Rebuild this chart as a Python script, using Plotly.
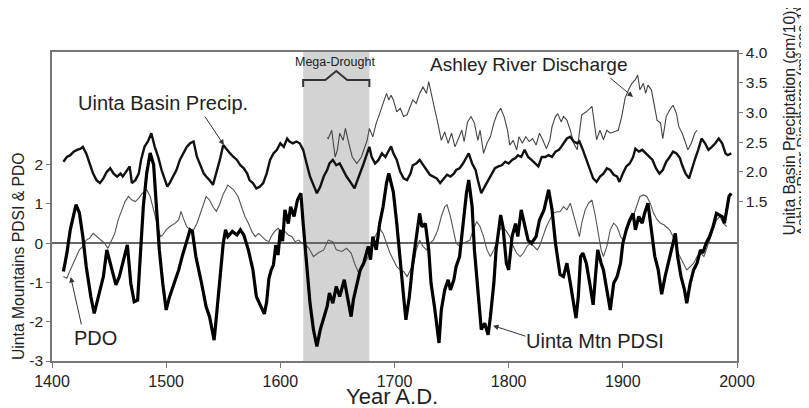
import plotly.graph_objects as go

# ---------------- data ----------------
pdsi_year = [1410,1413,1416,1419,1421,1424,1427,1430,1434,1437,1440,1445,1448,1452,1456,1459,1463,1466,1469,1472,
             1475,1477,1480,1483,1486,1489,1491,1494,1497,1500,1503,1507,1511,1514,1518,1521,1523,1526,1531,1535,
             1538,1542,1544,1547,1550,1552,1554,1558,1562,1565,1568,1572,1576,1579,1582,1586,1588,1590,1592,1594,
             1596,1598,1600,1602,1604,1607,1609,1612,1615,1618,1620,1623,1626,1629,1632,1635,1638,1641,1643,1646,
             1649,1652,1656,1659,1662,1664,1667,1670,1673,1677,1679,1681,1684,1687,1690,1693,1695,1697,1699,1702,
             1705,1708,1710,1713,1716,1719,1722,1724,1727,1730,1732,1735,1739,1741,1744,1747,1749,1752,1754,1757,
             1760,1763,1765,1768,1770,1773,1776,1779,1782,1784,1787,1789,1791,1793,1795,1798,1800,1803,1806,1808,
             1811,1814,1817,1820,1824,1827,1831,1835,1838,1841,1843,1845,1848,1851,1854,1857,1859,1861,1863,1865,
             1868,1871,1874,1876,1878,1881,1883,1886,1889,1892,1895,1898,1900,1903,1906,1909,1911,1914,1917,1919,
             1922,1925,1928,1931,1934,1937,1940,1943,1946,1948,1951,1954,1956,1959,1962,1965,1968,1970,1973,1976,
             1979,1982,1985,1987,1989,1991,1993,1995]
pdsi_val = [-0.72,-0.26,0.34,0.68,0.98,0.77,0.17,-0.6,-1.36,-1.79,-1.45,-0.85,-0.17,-0.6,-1.06,-0.85,-0.34,-0.04,-1.02,-1.49,
            -1.45,-0.6,0.94,1.79,2.3,2.0,1.1,-0.17,-1.02,-1.7,-1.36,-1.02,-0.68,-0.34,0.08,0.34,0.3,-0.34,-1.02,-1.62,
            -1.87,-2.47,-1.87,-1.02,0.0,0.34,0.17,0.3,0.21,0.34,0.21,-0.17,-0.68,-1.36,-1.53,-1.8,-1.5,-0.9,-0.68,-0.55,
            -0.05,-0.3,0.34,0.05,0.85,0.5,0.93,0.68,1.1,1.27,0.5,-0.5,-1.53,-2.2,-2.63,-2.2,-1.87,-1.61,-1.27,-1.53,
            -1.1,-1.36,-0.93,-1.36,-1.87,-1.44,-1.02,-0.68,-0.51,-0.08,-0.42,0.17,-0.17,0.5,0.93,1.53,1.78,1.53,1.3,0.5,
            -0.34,-1.36,-1.95,-1.36,-0.51,0.17,0.76,0.42,0.5,-0.17,-1.02,-1.61,-2.54,-1.7,-1.19,-0.93,-1.19,-0.93,-0.59,-0.34,
            0.5,1.27,1.61,0.93,-0.17,-1.27,-2.2,-2.04,-2.33,-1.87,-1.02,-0.17,0.34,0.72,0.42,-0.51,-0.68,0.17,0.5,0.17,
            0.85,0.5,0.08,0.0,0.17,0.59,0.85,1.36,0.85,0.0,-0.34,-0.8,-0.85,-0.51,-1.02,-1.53,-1.91,-1.36,-0.34,-0.25,
            -0.51,-1.02,-1.57,-0.85,-0.17,-0.51,-0.68,-1.19,-1.7,-1.02,-0.85,-0.51,0.0,0.34,0.59,0.76,0.34,0.68,0.51,0.76,
            1.02,0.34,-0.34,-0.68,-1.3,-0.85,-0.51,-0.17,0.25,-0.34,-0.85,-1.19,-1.53,-1.02,-0.68,-0.51,-0.17,-0.25,0.0,0.17,
            0.42,0.76,0.72,0.68,0.51,0.85,1.19,1.27]

pdo_year = [1410,1413,1416,1419,1422,1424,1427,1430,1433,1436,1439,1443,1446,1449,1452,1455,1458,1461,1464,1467,
            1470,1473,1476,1479,1483,1486,1489,1492,1495,1497,1500,1503,1508,1511,1513,1515,1518,1521,1524,1527,
            1530,1533,1535,1538,1541,1544,1547,1550,1554,1559,1563,1566,1569,1572,1575,1578,1581,1584,1587,1590,
            1592,1595,1598,1601,1604,1607,1610,1613,1616,1619,1622,1625,1629,1633,1638,1642,1646,1649,1654,1658,
            1662,1665,1668,1671,1674,1677,1680,1683,1687,1690,1693,1696,1699,1702,1705,1708,1711,1714,1717,1719,
            1722,1725,1728,1731,1734,1738,1741,1744,1746,1749,1752,1754,1757,1760,1763,1766,1769,1772,1775,1778,
            1781,1784,1787,1790,1792,1795,1798,1801,1804,1807,1810,1813,1816,1819,1822,1825,1827,1830,1833,1836,
            1839,1842,1845,1848,1851,1854,1857,1860,1862,1864,1867,1870,1873,1876,1879,1881,1883,1886,1889,1892,
            1895,1898,1900,1903,1906,1909,1912,1915,1918,1921,1924,1927,1930,1933,1936,1938,1941,1944,1947,1950,
            1953,1956,1959,1962,1965,1968,1971,1973,1976,1979,1982,1985,1988,1991]
pdo_val = [-0.85,-0.89,-0.68,-0.51,-0.3,-0.17,-0.08,0.08,0.13,0.25,0.17,0.08,0.0,-0.13,0.04,0.25,0.6,0.85,1.06,1.19,
           1.1,1.06,1.15,1.27,1.36,1.19,0.85,0.51,0.17,0.21,0.34,0.42,0.51,0.6,0.81,0.64,0.42,0.34,0.34,0.51,
           0.76,1.06,1.19,1.1,0.93,0.81,1.0,1.25,1.48,1.36,1.19,0.93,0.68,0.51,0.3,0.17,0.25,0.17,0.08,0.04,
           0.17,0.3,0.38,0.3,0.3,0.21,0.17,0.04,0.08,0.0,-0.04,-0.13,-0.34,-0.25,-0.17,0.08,0.04,-0.17,-0.21,-0.13,
           -0.25,-0.51,-0.72,-0.68,-0.51,-0.34,-0.08,0.17,0.38,0.25,0.0,-0.25,-0.42,-0.6,-0.68,-0.72,-0.85,-0.68,-0.51,-0.17,
           0.08,-0.08,-0.17,0.0,0.08,0.34,0.68,0.93,0.98,0.68,0.25,0.0,-0.08,0.0,0.04,0.08,0.34,0.55,0.42,0.17,
           -0.17,-0.34,-0.17,0.08,0.34,0.42,0.3,0.17,-0.08,-0.25,-0.34,-0.25,-0.08,0.0,-0.08,-0.17,-0.08,0.17,0.42,0.6,
           0.76,0.8,0.8,0.93,0.85,1.02,0.68,0.34,0.17,0.51,0.85,1.02,1.1,0.68,0.17,-0.17,-0.34,-0.08,0.34,0.51,
           0.42,0.17,0.08,0.3,0.51,0.68,0.93,1.19,1.23,1.19,1.02,0.76,0.6,0.51,0.47,0.42,0.34,0.17,-0.17,-0.34,
           -0.51,-0.68,-0.6,-0.51,-0.34,-0.25,-0.34,-0.17,0.08,0.34,0.59,0.68,0.51,0.42]

precip_year = [1410,1413,1416,1419,1422,1425,1427,1430,1433,1436,1439,1442,1445,1448,1451,1454,1457,1460,1462,1465,
               1468,1470,1473,1476,1478,1481,1484,1487,1490,1493,1496,1499,1501,1503,1506,1509,1512,1515,1518,1521,
               1524,1527,1530,1533,1535,1538,1541,1544,1547,1550,1553,1556,1559,1562,1565,1568,1571,1573,1576,1579,
               1582,1585,1588,1591,1594,1597,1600,1603,1606,1608,1611,1614,1617,1620,1623,1626,1629,1632,1635,1638,
               1641,1643,1646,1649,1652,1655,1658,1662,1665,1667,1670,1673,1676,1678,1680,1683,1686,1689,1692,1695,
               1697,1699,1702,1705,1708,1711,1714,1716,1719,1722,1725,1728,1731,1734,1737,1740,1743,1746,1749,1752,
               1754,1757,1760,1763,1765,1768,1771,1773,1776,1779,1782,1785,1788,1791,1794,1797,1800,1803,1806,1808,
               1811,1814,1817,1820,1823,1826,1829,1832,1835,1838,1841,1844,1846,1848,1851,1854,1857,1860,1862,1865,
               1868,1871,1874,1877,1880,1883,1886,1889,1892,1895,1897,1900,1903,1906,1909,1911,1914,1917,1920,1923,
               1926,1929,1932,1935,1938,1941,1944,1947,1950,1952,1955,1958,1960,1963,1966,1969,1972,1975,1978,1981,
               1984,1987,1990,1992,1995]
precip_val = [2.17,2.25,2.28,2.34,2.37,2.39,2.42,2.31,2.14,1.97,1.86,1.81,1.89,2.0,2.06,1.97,1.92,1.97,1.92,2.0,
              2.09,1.81,1.86,1.97,2.2,2.42,2.51,2.65,2.42,2.25,2.03,1.86,1.75,1.81,1.92,2.03,2.2,2.31,2.42,2.48,
              2.51,2.25,2.11,1.97,1.92,1.86,1.78,1.97,2.2,2.45,2.37,2.31,2.25,2.2,2.11,2.06,1.97,1.86,1.81,1.72,
              1.75,1.81,1.97,2.2,2.31,2.37,2.48,2.42,2.56,2.51,2.48,2.51,2.48,2.37,2.14,1.92,1.78,1.64,1.75,1.92,
              2.03,2.14,2.2,2.11,2.14,2.03,1.92,1.81,1.72,1.83,1.97,2.14,2.31,2.42,2.25,2.14,2.2,2.31,2.25,2.37,
              2.43,2.31,2.2,2.0,1.89,1.86,1.97,2.11,2.14,2.2,2.11,2.03,1.95,1.92,1.89,1.81,1.89,1.95,1.92,1.97,
              2.03,2.06,2.14,2.23,2.31,2.14,2.03,1.86,1.64,1.75,1.86,1.97,2.06,2.09,2.11,2.17,2.14,2.2,2.23,2.28,
              2.25,2.37,2.25,2.2,2.14,2.09,2.25,2.25,2.28,2.25,2.34,2.37,2.42,2.48,2.56,2.59,2.51,2.48,2.51,2.37,
              2.2,2.03,1.89,1.83,1.92,1.97,2.06,2.03,1.95,1.92,1.83,1.97,2.09,2.14,2.25,2.39,2.34,2.37,2.31,2.25,
              2.2,2.06,1.97,2.03,2.17,2.25,2.34,2.31,2.23,2.11,1.97,1.89,2.03,2.2,2.37,2.56,2.48,2.37,2.42,2.48,
              2.56,2.48,2.31,2.28,2.31]

discharge_year = [1641,1642,1645,1648,1650,1652,1655,1657,1660,1663,1667,1671,1676,1678,1681,1684,1687,1690,1692,1693,
                  1695,1697,1699,1702,1705,1708,1711,1714,1716,1719,1722,1725,1728,1730,1732,1735,1738,1741,1744,1747,
                  1750,1753,1756,1759,1761,1764,1767,1770,1773,1775,1778,1781,1784,1787,1790,1793,1796,1799,1801,1804,
                  1807,1809,1812,1815,1818,1821,1824,1827,1830,1833,1836,1838,1841,1843,1846,1848,1851,1854,1857,1860,
                  1864,1868,1873,1877,1880,1883,1886,1889,1893,1896,1899,1902,1905,1908,1911,1913,1915,1918,1920,1922,
                  1925,1928,1930,1933,1935,1938,1941,1944,1947,1949,1952,1954,1957,1960,1963,1965]
discharge_val = [2.58,2.56,2.7,2.25,2.37,2.65,2.53,2.73,2.48,2.25,2.14,2.25,2.53,2.73,2.59,2.82,2.98,3.15,3.24,3.32,
                 3.21,3.29,3.21,3.01,3.07,2.93,2.96,3.12,3.21,3.15,3.32,3.43,3.32,3.52,3.32,3.07,2.82,2.53,2.67,2.48,
                 2.65,2.42,2.56,2.7,2.51,2.84,2.93,2.82,2.53,2.7,2.31,2.48,2.59,2.82,2.98,3.07,2.93,2.7,2.45,2.53,
                 2.37,2.59,2.48,2.59,2.51,2.56,2.45,2.65,2.53,2.39,2.53,2.76,2.93,2.98,2.84,2.93,2.87,2.7,2.48,2.37,
                 2.96,3.01,3.1,2.54,2.7,2.54,2.7,2.65,2.68,2.7,2.93,3.24,3.38,3.49,3.55,3.63,3.38,3.49,3.32,3.46,
                 3.38,3.1,2.87,2.82,2.56,2.93,3.04,3.12,2.98,2.76,2.65,2.54,2.37,2.48,2.65,2.7]

x_ticks = [1400, 1500, 1600, 1700, 1800, 1900, 2000]
left_ticks = [-3, -2, -1, 0, 1, 2]
left_tick_text = ["-3", "-2", "-1", "0", "1", "2"]
right_ticks = [1.5, 2.0, 2.5, 3.0, 3.5, 4.0]
right_tick_text = ["1.5", "2.0", "2.5", "3.0", "3.5", "4.0"]
mega_drought = [1620, 1678]

# ---------------- figure ----------------
FONT = "Liberation Sans, Arial, Helvetica, sans-serif"
INK = "#222222"
AX = "#777777"

# the page body has an 8px default margin; compensate so the plot lands where the reference has it
PAGE_OFF = 8
W, H = 809, 408
ML, MT = 52 - PAGE_OFF, 52 - PAGE_OFF
MR = W - ML - 685              # plot width 685
MB = H - MT - 309              # plot height 309
PLOT_W, PLOT_H = 685, 309
TOP = 52                       # screen pixel of plot top
BOT = TOP + PLOT_H             # screen pixel of plot bottom
LEFT = 52

fig = go.Figure()
fig.add_trace(go.Scatter(x=discharge_year, y=discharge_val, yaxis="y2", mode="lines",
                         line=dict(color="#444444", width=1.1), name="Ashley River Discharge"))
fig.add_trace(go.Scatter(x=pdo_year, y=pdo_val, mode="lines",
                         line=dict(color="#555555", width=1.1), name="PDO"))
fig.add_trace(go.Scatter(x=precip_year, y=precip_val, yaxis="y2", mode="lines",
                         line=dict(color="#111111", width=2.4), name="Uinta Basin Precip."))
fig.add_trace(go.Scatter(x=pdsi_year, y=pdsi_val, mode="lines",
                         line=dict(color="#000000", width=3.2), name="Uinta Mtn PDSI"))

# mega-drought band
fig.add_shape(type="rect", xref="x", yref="paper", x0=mega_drought[0], x1=mega_drought[1],
              y0=0, y1=1, fillcolor="#d3d3d3", line_width=0, layer="below")

def py(p):
    return (BOT - p) / float(PLOT_H)

def px(p):
    return (p - LEFT) / float(PLOT_W)

mid = (mega_drought[0] + mega_drought[1]) / 2.0
half = (mega_drought[1] - mega_drought[0]) / 2.0
bx = [mega_drought[0], mega_drought[0], mid - 0.33 * half, mid, mid + 0.33 * half, mega_drought[1], mega_drought[1]]
byy = [py(87), py(80), py(80), py(71), py(80), py(80), py(87)]
path = "M " + " L ".join(f"{a},{b}" for a, b in zip(bx, byy))
fig.add_shape(type="path", xref="x", yref="paper", path=path,
              line=dict(color="#333333", width=2))

ann = []
def txt(x, y, s, size, xref="x", yref="y", **kw):
    ann.append(dict(x=x, y=y, xref=xref, yref=yref, text=s, showarrow=False,
                    xanchor="center", yanchor="middle",
                    font=dict(family=FONT, size=size, color=INK), **kw))

def arrow(x, y, ax, ay, yref="y"):
    ann.append(dict(x=x, y=y, xref="x", yref=yref, text="", showarrow=True,
                    ax=ax, ay=ay, arrowhead=2, arrowsize=1.1, arrowwidth=1,
                    arrowcolor="#333333", standoff=0, startstandoff=0))

txt(mid - 1, py(62), "Mega-Drought", 12.5, yref="paper")
txt(1497, 3.57, "Uinta Basin Precip.", 20)
txt(1817, 4.54, "Ashley River Discharge", 19)
txt(1438.5, -2.41, "PDO", 20)
txt(1876, -2.5, "Uinta Mtn PDSI", 20)

arrow(1550.6, 2.45, -20, -30, yref="y2")
arrow(1908.9, 3.26, -24, -20, yref="y2")
arrow(1416.4, -0.86, 11, 49)
arrow(1786.3, -2.1, 34, 11)

# axis titles
txt(px(392), py(396), "Year A.D.", 22, xref="paper", yref="paper")
txt(px(19), py(256), "Uinta Mountains PDSI & PDO", 15.7, xref="paper", yref="paper",
    textangle=-90)
txt(px(789), py(121.5), "Unita Basin Preciptation (cm/10);", 15.7,
    xref="paper", yref="paper", textangle=-90)
txt(px(800), py(121), "Ashley River Discharge (m<sup>3</sup> sec-1)", 15,
    xref="paper", yref="paper", textangle=-90)

fig.update_layout(
    width=W, height=H,
    margin=dict(l=ML, r=MR, t=MT, b=MB, autoexpand=False),
    paper_bgcolor="white", plot_bgcolor="white",
    showlegend=False,
    font=dict(family=FONT, color=INK),
    annotations=ann,
    xaxis=dict(range=[1400, 2000], tickvals=x_ticks, ticks="outside", ticklen=5,
               tickcolor=AX, showgrid=False, zeroline=False, showline=True, linecolor=AX,
               linewidth=1.5, mirror=True, tickfont=dict(size=16, color=INK)),
    yaxis=dict(range=[-3, 4.87], tickvals=left_ticks, ticktext=left_tick_text,
               ticks="outside", ticklen=4,
               tickcolor=AX, showgrid=False, zeroline=True, zerolinecolor="#666666",
               zerolinewidth=1.6, showline=True, linecolor=AX, linewidth=1.5,
               tickfont=dict(size=15.5, color=INK)),
    yaxis2=dict(range=[-1.185, 4.017], tickvals=right_ticks, ticktext=right_tick_text,
                overlaying="y", side="right", ticks="outside", ticklen=4, tickcolor=AX,
                showgrid=False, zeroline=False, showline=True, linecolor=AX, linewidth=1.5,
                tickfont=dict(size=15.5, color=INK)),
)

fig.write_html("out.html")
